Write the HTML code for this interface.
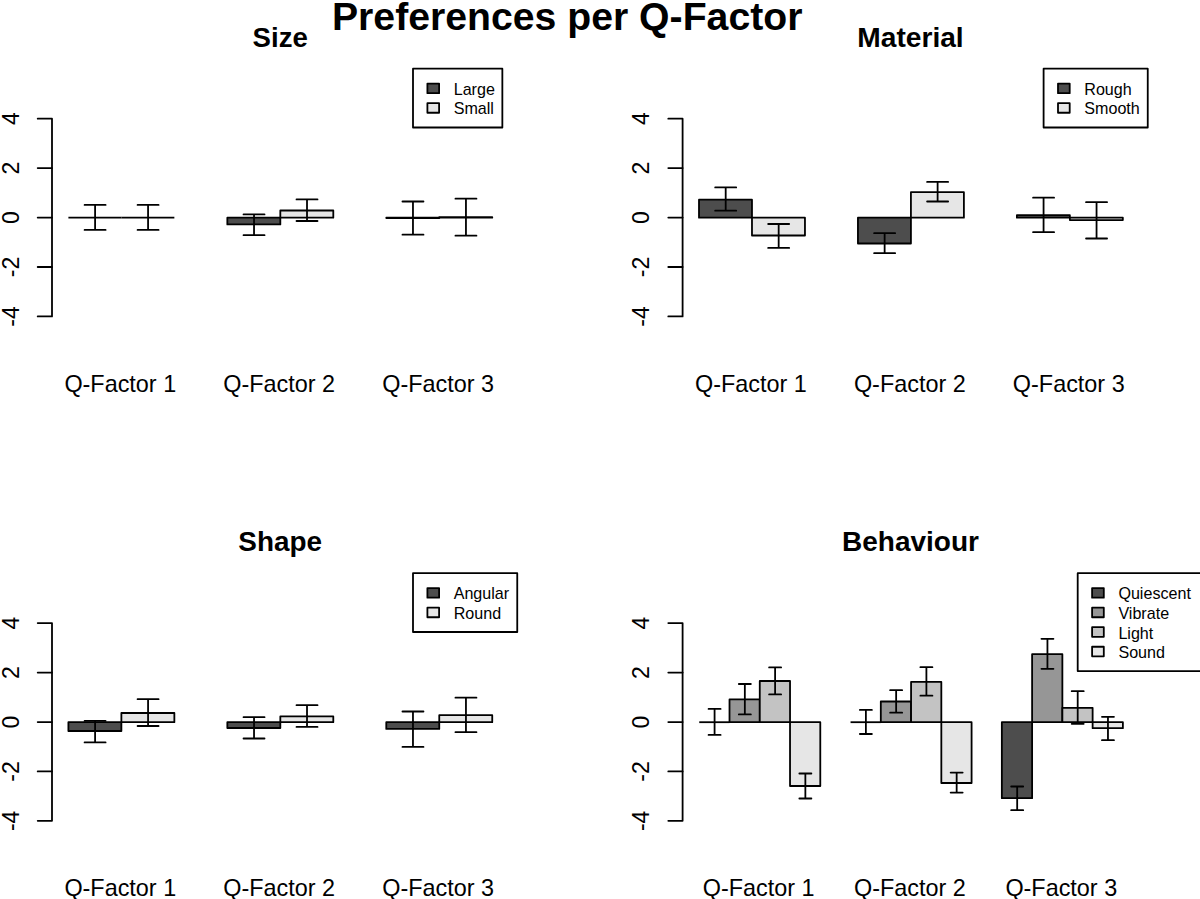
<!DOCTYPE html>
<html><head><meta charset="utf-8"><title>Preferences per Q-Factor</title>
<style>
html,body{margin:0;padding:0;background:#fff;}
body{width:1200px;height:899px;overflow:hidden;}
svg{display:block;}
svg line, svg rect, svg polyline{stroke:#000;stroke-width:1.8;stroke-linecap:round;stroke-linejoin:round;}
text{font-family:"Liberation Sans",Arial,sans-serif;fill:#000;stroke:none;}
.main{font-size:39.2px;font-weight:bold;}
.mt{font-size:27.6px;font-weight:bold;}
.ax{font-size:23px;}
.xl{font-size:23.4px;}
.lg{font-size:16.1px;}
</style></head><body>
<svg width="1200" height="899" viewBox="0 0 1200 899">
<rect x="0" y="0" width="1200" height="899" fill="#fff" style="stroke:none"/>
<polyline fill="none" points="37.7,118.65 52,118.65 52,316.4 37.7,316.4"/>
<line x1="37.7" y1="168.1" x2="52" y2="168.1"/>
<line x1="37.7" y1="217.6" x2="52" y2="217.6"/>
<line x1="37.7" y1="267" x2="52" y2="267"/>
<text x="18.7" y="118.65" class="ax" text-anchor="middle" transform="rotate(-90 18.7 118.65)">4</text>
<text x="18.7" y="168.1" class="ax" text-anchor="middle" transform="rotate(-90 18.7 168.1)">2</text>
<text x="18.7" y="217.6" class="ax" text-anchor="middle" transform="rotate(-90 18.7 217.6)">0</text>
<text x="18.7" y="267" class="ax" text-anchor="middle" transform="rotate(-90 18.7 267)">-2</text>
<text x="18.7" y="316.4" class="ax" text-anchor="middle" transform="rotate(-90 18.7 316.4)">-4</text>
<line x1="68.4" y1="217.7" x2="121.38" y2="217.7" style="stroke-linecap:butt"/>
<line x1="121.38" y1="217.7" x2="174.36" y2="217.7" style="stroke-linecap:butt"/>
<rect x="227.34" y="217.7" width="52.98" height="6.7" fill="#4D4D4D"/>
<rect x="280.32" y="210.5" width="52.98" height="7.2" fill="#E6E6E6"/>
<rect x="386.28" y="217.7" width="52.98" height="0.4" fill="#4D4D4D"/>
<rect x="439.26" y="217.2" width="52.98" height="0.5" fill="#E6E6E6"/>
<line x1="95.09" y1="204.9" x2="95.09" y2="229.9" style="stroke-linecap:butt"/>
<line x1="84.59" y1="204.9" x2="105.59" y2="204.9"/>
<line x1="84.59" y1="229.9" x2="105.59" y2="229.9"/>
<line x1="148.07" y1="204.9" x2="148.07" y2="229.9" style="stroke-linecap:butt"/>
<line x1="137.57" y1="204.9" x2="158.57" y2="204.9"/>
<line x1="137.57" y1="229.9" x2="158.57" y2="229.9"/>
<line x1="254.03" y1="214.4" x2="254.03" y2="235.2" style="stroke-linecap:butt"/>
<line x1="243.53" y1="214.4" x2="264.53" y2="214.4"/>
<line x1="243.53" y1="235.2" x2="264.53" y2="235.2"/>
<line x1="307.01" y1="199.4" x2="307.01" y2="221" style="stroke-linecap:butt"/>
<line x1="296.51" y1="199.4" x2="317.51" y2="199.4"/>
<line x1="296.51" y1="221" x2="317.51" y2="221"/>
<line x1="412.97" y1="201.5" x2="412.97" y2="234.7" style="stroke-linecap:butt"/>
<line x1="402.47" y1="201.5" x2="423.47" y2="201.5"/>
<line x1="402.47" y1="234.7" x2="423.47" y2="234.7"/>
<line x1="465.95" y1="198.7" x2="465.95" y2="235.7" style="stroke-linecap:butt"/>
<line x1="455.45" y1="198.7" x2="476.45" y2="198.7"/>
<line x1="455.45" y1="235.7" x2="476.45" y2="235.7"/>
<text x="280.2" y="46.75" class="mt" text-anchor="middle" style="font-size:27.6px">Size</text>
<text x="120.28" y="392.1" class="xl" text-anchor="middle">Q-Factor 1</text>
<text x="279.22" y="392.1" class="xl" text-anchor="middle">Q-Factor 2</text>
<text x="438.16" y="392.1" class="xl" text-anchor="middle">Q-Factor 3</text>
<rect x="413" y="68.7" width="89.35" height="58.8" fill="#fff"/>
<rect x="427.4" y="83.6" width="11.7" height="9.6" fill="#4D4D4D"/>
<text x="453.7" y="94.6" class="lg">Large</text>
<rect x="427.4" y="103.15" width="11.7" height="9.6" fill="#E6E6E6"/>
<text x="453.7" y="114.4" class="lg">Small</text>
<polyline fill="none" points="668.3,118.65 682.6,118.65 682.6,316.4 668.3,316.4"/>
<line x1="668.3" y1="168.1" x2="682.6" y2="168.1"/>
<line x1="668.3" y1="217.6" x2="682.6" y2="217.6"/>
<line x1="668.3" y1="267" x2="682.6" y2="267"/>
<text x="649.3" y="118.65" class="ax" text-anchor="middle" transform="rotate(-90 649.3 118.65)">4</text>
<text x="649.3" y="168.1" class="ax" text-anchor="middle" transform="rotate(-90 649.3 168.1)">2</text>
<text x="649.3" y="217.6" class="ax" text-anchor="middle" transform="rotate(-90 649.3 217.6)">0</text>
<text x="649.3" y="267" class="ax" text-anchor="middle" transform="rotate(-90 649.3 267)">-2</text>
<text x="649.3" y="316.4" class="ax" text-anchor="middle" transform="rotate(-90 649.3 316.4)">-4</text>
<rect x="699" y="199.7" width="52.98" height="18" fill="#4D4D4D"/>
<rect x="751.98" y="217.7" width="52.98" height="17.8" fill="#E6E6E6"/>
<rect x="857.94" y="217.7" width="52.98" height="25.8" fill="#4D4D4D"/>
<rect x="910.92" y="192.2" width="52.98" height="25.5" fill="#E6E6E6"/>
<rect x="1016.88" y="215.2" width="52.98" height="2.5" fill="#4D4D4D"/>
<rect x="1069.86" y="217.7" width="52.98" height="2.4" fill="#E6E6E6"/>
<line x1="725.69" y1="187.4" x2="725.69" y2="210.7" style="stroke-linecap:butt"/>
<line x1="715.19" y1="187.4" x2="736.19" y2="187.4"/>
<line x1="715.19" y1="210.7" x2="736.19" y2="210.7"/>
<line x1="778.67" y1="224" x2="778.67" y2="247.9" style="stroke-linecap:butt"/>
<line x1="768.17" y1="224" x2="789.17" y2="224"/>
<line x1="768.17" y1="247.9" x2="789.17" y2="247.9"/>
<line x1="884.63" y1="233.2" x2="884.63" y2="253.2" style="stroke-linecap:butt"/>
<line x1="874.13" y1="233.2" x2="895.13" y2="233.2"/>
<line x1="874.13" y1="253.2" x2="895.13" y2="253.2"/>
<line x1="937.61" y1="181.9" x2="937.61" y2="201.5" style="stroke-linecap:butt"/>
<line x1="927.11" y1="181.9" x2="948.11" y2="181.9"/>
<line x1="927.11" y1="201.5" x2="948.11" y2="201.5"/>
<line x1="1043.57" y1="197.7" x2="1043.57" y2="232.2" style="stroke-linecap:butt"/>
<line x1="1033.07" y1="197.7" x2="1054.07" y2="197.7"/>
<line x1="1033.07" y1="232.2" x2="1054.07" y2="232.2"/>
<line x1="1096.55" y1="202.2" x2="1096.55" y2="238.5" style="stroke-linecap:butt"/>
<line x1="1086.05" y1="202.2" x2="1107.05" y2="202.2"/>
<line x1="1086.05" y1="238.5" x2="1107.05" y2="238.5"/>
<text x="910.5" y="46.75" class="mt" text-anchor="middle" style="font-size:28.15px">Material</text>
<text x="750.88" y="392.1" class="xl" text-anchor="middle">Q-Factor 1</text>
<text x="909.82" y="392.1" class="xl" text-anchor="middle">Q-Factor 2</text>
<text x="1068.76" y="392.1" class="xl" text-anchor="middle">Q-Factor 3</text>
<rect x="1043.6" y="68.7" width="104.15" height="58.8" fill="#fff"/>
<rect x="1058" y="83.6" width="11.7" height="9.6" fill="#4D4D4D"/>
<text x="1084.3" y="94.6" class="lg">Rough</text>
<rect x="1058" y="103.15" width="11.7" height="9.6" fill="#E6E6E6"/>
<text x="1084.3" y="114.4" class="lg">Smooth</text>
<polyline fill="none" points="37.7,623.1 52,623.1 52,820.85 37.7,820.85"/>
<line x1="37.7" y1="672.55" x2="52" y2="672.55"/>
<line x1="37.7" y1="722.05" x2="52" y2="722.05"/>
<line x1="37.7" y1="771.45" x2="52" y2="771.45"/>
<text x="18.7" y="623.1" class="ax" text-anchor="middle" transform="rotate(-90 18.7 623.1)">4</text>
<text x="18.7" y="672.55" class="ax" text-anchor="middle" transform="rotate(-90 18.7 672.55)">2</text>
<text x="18.7" y="722.05" class="ax" text-anchor="middle" transform="rotate(-90 18.7 722.05)">0</text>
<text x="18.7" y="771.45" class="ax" text-anchor="middle" transform="rotate(-90 18.7 771.45)">-2</text>
<text x="18.7" y="820.85" class="ax" text-anchor="middle" transform="rotate(-90 18.7 820.85)">-4</text>
<rect x="68.4" y="722.2" width="52.98" height="8.8" fill="#4D4D4D"/>
<rect x="121.38" y="713" width="52.98" height="9.2" fill="#E6E6E6"/>
<rect x="227.34" y="722.2" width="52.98" height="5.8" fill="#4D4D4D"/>
<rect x="280.32" y="716.4" width="52.98" height="5.8" fill="#E6E6E6"/>
<rect x="386.28" y="722.2" width="52.98" height="6.7" fill="#4D4D4D"/>
<rect x="439.26" y="715.2" width="52.98" height="7" fill="#E6E6E6"/>
<line x1="95.09" y1="720.9" x2="95.09" y2="742.4" style="stroke-linecap:butt"/>
<line x1="84.59" y1="720.9" x2="105.59" y2="720.9"/>
<line x1="84.59" y1="742.4" x2="105.59" y2="742.4"/>
<line x1="148.07" y1="699.2" x2="148.07" y2="726" style="stroke-linecap:butt"/>
<line x1="137.57" y1="699.2" x2="158.57" y2="699.2"/>
<line x1="137.57" y1="726" x2="158.57" y2="726"/>
<line x1="254.03" y1="717.2" x2="254.03" y2="738.5" style="stroke-linecap:butt"/>
<line x1="243.53" y1="717.2" x2="264.53" y2="717.2"/>
<line x1="243.53" y1="738.5" x2="264.53" y2="738.5"/>
<line x1="307.01" y1="705.2" x2="307.01" y2="726.9" style="stroke-linecap:butt"/>
<line x1="296.51" y1="705.2" x2="317.51" y2="705.2"/>
<line x1="296.51" y1="726.9" x2="317.51" y2="726.9"/>
<line x1="412.97" y1="711.5" x2="412.97" y2="746.9" style="stroke-linecap:butt"/>
<line x1="402.47" y1="711.5" x2="423.47" y2="711.5"/>
<line x1="402.47" y1="746.9" x2="423.47" y2="746.9"/>
<line x1="465.95" y1="697.7" x2="465.95" y2="732.2" style="stroke-linecap:butt"/>
<line x1="455.45" y1="697.7" x2="476.45" y2="697.7"/>
<line x1="455.45" y1="732.2" x2="476.45" y2="732.2"/>
<text x="280.2" y="551.25" class="mt" text-anchor="middle" style="font-size:27.9px">Shape</text>
<text x="120.28" y="896" class="xl" text-anchor="middle">Q-Factor 1</text>
<text x="279.22" y="896" class="xl" text-anchor="middle">Q-Factor 2</text>
<text x="438.16" y="896" class="xl" text-anchor="middle">Q-Factor 3</text>
<rect x="413" y="573.2" width="104.25" height="58.8" fill="#fff"/>
<rect x="427.4" y="588.1" width="11.7" height="9.6" fill="#4D4D4D"/>
<text x="453.7" y="599.1" class="lg">Angular</text>
<rect x="427.4" y="607.65" width="11.7" height="9.6" fill="#E6E6E6"/>
<text x="453.7" y="618.9" class="lg">Round</text>
<polyline fill="none" points="668.3,623.1 682.6,623.1 682.6,820.85 668.3,820.85"/>
<line x1="668.3" y1="672.55" x2="682.6" y2="672.55"/>
<line x1="668.3" y1="722.05" x2="682.6" y2="722.05"/>
<line x1="668.3" y1="771.45" x2="682.6" y2="771.45"/>
<text x="649.3" y="623.1" class="ax" text-anchor="middle" transform="rotate(-90 649.3 623.1)">4</text>
<text x="649.3" y="672.55" class="ax" text-anchor="middle" transform="rotate(-90 649.3 672.55)">2</text>
<text x="649.3" y="722.05" class="ax" text-anchor="middle" transform="rotate(-90 649.3 722.05)">0</text>
<text x="649.3" y="771.45" class="ax" text-anchor="middle" transform="rotate(-90 649.3 771.45)">-2</text>
<text x="649.3" y="820.85" class="ax" text-anchor="middle" transform="rotate(-90 649.3 820.85)">-4</text>
<line x1="699.25" y1="722.2" x2="729.51" y2="722.2" style="stroke-linecap:butt"/>
<rect x="729.51" y="699.4" width="30.26" height="22.8" fill="#969696"/>
<rect x="759.77" y="681" width="30.26" height="41.2" fill="#C3C3C3"/>
<rect x="790.03" y="722.2" width="30.26" height="63.8" fill="#E6E6E6"/>
<line x1="850.55" y1="722.2" x2="880.81" y2="722.2" style="stroke-linecap:butt"/>
<rect x="880.81" y="701.5" width="30.26" height="20.7" fill="#969696"/>
<rect x="911.07" y="681.9" width="30.26" height="40.3" fill="#C3C3C3"/>
<rect x="941.33" y="722.2" width="30.26" height="60.8" fill="#E6E6E6"/>
<rect x="1001.85" y="722.2" width="30.26" height="76" fill="#4D4D4D"/>
<rect x="1032.11" y="654.2" width="30.26" height="68" fill="#969696"/>
<rect x="1062.37" y="707.8" width="30.26" height="14.4" fill="#C3C3C3"/>
<rect x="1092.63" y="722.2" width="30.26" height="6" fill="#E6E6E6"/>
<line x1="714.58" y1="708.9" x2="714.58" y2="734.9" style="stroke-linecap:butt"/>
<line x1="708.58" y1="708.9" x2="720.58" y2="708.9"/>
<line x1="708.58" y1="734.9" x2="720.58" y2="734.9"/>
<line x1="744.84" y1="684" x2="744.84" y2="714.4" style="stroke-linecap:butt"/>
<line x1="738.84" y1="684" x2="750.84" y2="684"/>
<line x1="738.84" y1="714.4" x2="750.84" y2="714.4"/>
<line x1="775.1" y1="667.4" x2="775.1" y2="694.4" style="stroke-linecap:butt"/>
<line x1="769.1" y1="667.4" x2="781.1" y2="667.4"/>
<line x1="769.1" y1="694.4" x2="781.1" y2="694.4"/>
<line x1="805.36" y1="773.5" x2="805.36" y2="798.5" style="stroke-linecap:butt"/>
<line x1="799.36" y1="773.5" x2="811.36" y2="773.5"/>
<line x1="799.36" y1="798.5" x2="811.36" y2="798.5"/>
<line x1="865.88" y1="709.9" x2="865.88" y2="734" style="stroke-linecap:butt"/>
<line x1="859.88" y1="709.9" x2="871.88" y2="709.9"/>
<line x1="859.88" y1="734" x2="871.88" y2="734"/>
<line x1="896.14" y1="690.2" x2="896.14" y2="712.7" style="stroke-linecap:butt"/>
<line x1="890.14" y1="690.2" x2="902.14" y2="690.2"/>
<line x1="890.14" y1="712.7" x2="902.14" y2="712.7"/>
<line x1="926.4" y1="667.2" x2="926.4" y2="695.7" style="stroke-linecap:butt"/>
<line x1="920.4" y1="667.2" x2="932.4" y2="667.2"/>
<line x1="920.4" y1="695.7" x2="932.4" y2="695.7"/>
<line x1="956.66" y1="772.6" x2="956.66" y2="792.6" style="stroke-linecap:butt"/>
<line x1="950.66" y1="772.6" x2="962.66" y2="772.6"/>
<line x1="950.66" y1="792.6" x2="962.66" y2="792.6"/>
<line x1="1017.18" y1="786.5" x2="1017.18" y2="810.2" style="stroke-linecap:butt"/>
<line x1="1011.18" y1="786.5" x2="1023.18" y2="786.5"/>
<line x1="1011.18" y1="810.2" x2="1023.18" y2="810.2"/>
<line x1="1047.44" y1="638.8" x2="1047.44" y2="668.8" style="stroke-linecap:butt"/>
<line x1="1041.44" y1="638.8" x2="1053.44" y2="638.8"/>
<line x1="1041.44" y1="668.8" x2="1053.44" y2="668.8"/>
<line x1="1077.7" y1="691.2" x2="1077.7" y2="723.8" style="stroke-linecap:butt"/>
<line x1="1071.7" y1="691.2" x2="1083.7" y2="691.2"/>
<line x1="1071.7" y1="723.8" x2="1083.7" y2="723.8"/>
<line x1="1107.96" y1="716.8" x2="1107.96" y2="740.2" style="stroke-linecap:butt"/>
<line x1="1101.96" y1="716.8" x2="1113.96" y2="716.8"/>
<line x1="1101.96" y1="740.2" x2="1113.96" y2="740.2"/>
<text x="910.5" y="551.25" class="mt" text-anchor="middle" style="font-size:28.0px">Behaviour</text>
<text x="758.67" y="896" class="xl" text-anchor="middle">Q-Factor 1</text>
<text x="909.97" y="896" class="xl" text-anchor="middle">Q-Factor 2</text>
<text x="1061.27" y="896" class="xl" text-anchor="middle">Q-Factor 3</text>
<rect x="1077.7" y="573.2" width="132.3" height="97.9" fill="#fff"/>
<rect x="1092.1" y="588.1" width="11.7" height="9.6" fill="#4D4D4D"/>
<text x="1118.4" y="599.1" class="lg">Quiescent</text>
<rect x="1092.1" y="607.65" width="11.7" height="9.6" fill="#969696"/>
<text x="1118.4" y="618.8" class="lg">Vibrate</text>
<rect x="1092.1" y="627.2" width="11.7" height="9.6" fill="#C3C3C3"/>
<text x="1118.4" y="638.5" class="lg">Light</text>
<rect x="1092.1" y="646.75" width="11.7" height="9.6" fill="#E6E6E6"/>
<text x="1118.4" y="658.25" class="lg">Sound</text>
<text x="567.2" y="29.5" class="main" text-anchor="middle">Preferences per Q-Factor</text>
</svg>
</body></html>
